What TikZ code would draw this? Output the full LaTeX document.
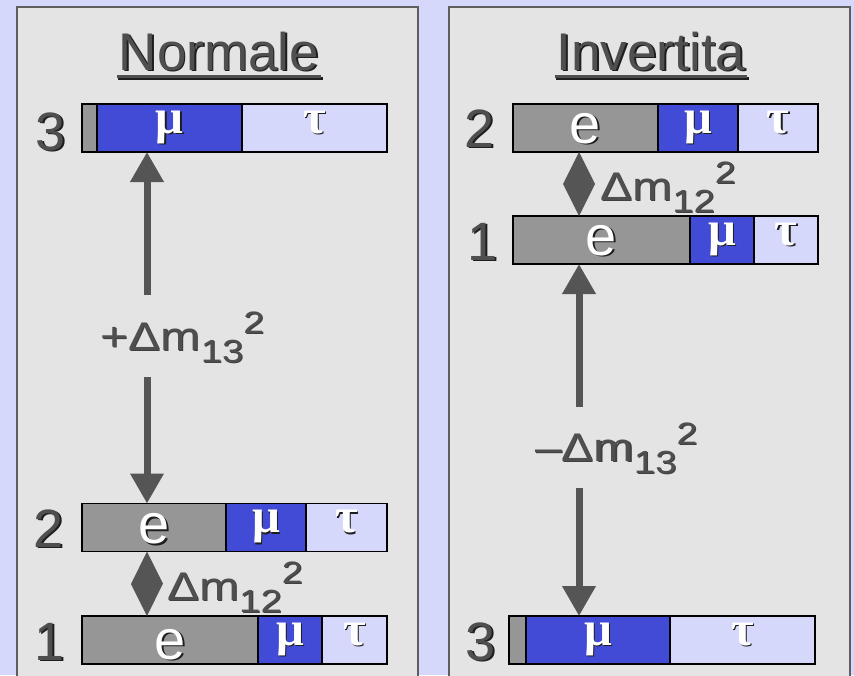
\documentclass[tikz,border=0pt]{standalone}
\usepackage{fontspec}
\setmainfont{Liberation Sans}
\newfontfamily\greekfont{Liberation Serif}
\usepackage{graphicx}
\usetikzlibrary{arrows.meta}

\definecolor{bgcol}{HTML}{D5D7FB}
\definecolor{panelcol}{HTML}{E4E4E4}
\definecolor{framecol}{HTML}{5E5E5E}
\definecolor{ecol}{HTML}{969696}
\definecolor{mucol}{HTML}{424BD6}
\definecolor{taucol}{HTML}{D5D7FB}
\definecolor{inkcol}{HTML}{4F4F4F}
\definecolor{arrowcol}{HTML}{555555}
\definecolor{shadecol}{HTML}{1E1E1E}

% text with a small drop shadow: colour, text
\newcommand\shadowed[2]{{\color{shadecol}\rlap{\kern1.6pt\raisebox{-1.6pt}{#2}}}{\color{#1}#2}}
\newcommand\lightshadow[2]{{\color{shadecol!85}\rlap{\kern1.1pt\raisebox{-1.1pt}{#2}}}{\color{#1}#2}}
\newcommand\fsz[1]{\fontsize{#1}{#1}\selectfont}
% mass-splitting label: sign, indices
\newcommand\dmsq[2]{\scalebox{1.2}[1]{\fsz{40}#1Δm\raisebox{-12pt}{\fsz{32}#2}\raisebox{17pt}{\fsz{31}2}}}

\tikzset{
  seg/.style={draw=black, line width=1.6pt, inner sep=0pt, outer sep=0pt,
              minimum height=48pt, anchor=west},
  level/.style={inner sep=0pt, font=\fsz{54}, anchor=base},
  elabel/.style={inner sep=0pt, font=\fsz{56}, anchor=base},
  glabel/.style={inner sep=0pt, font=\greekfont\bfseries\fsz{49}, anchor=base},
  title/.style={inner sep=0pt, font=\fsz{53}, anchor=base},
  panel/.style={fill=panelcol, draw=framecol, line width=2pt},
  bigarrow/.style={draw=arrowcol, line width=7pt,
                   -{Triangle[width=32pt,length=30pt]}},
  dlabel/.style={inner sep=0pt, anchor=base west},
}

\begin{document}
\begin{tikzpicture}[x=1pt, y=-1pt]
\useasboundingbox (0,0) rectangle (854,675);
\clip (0,0) rectangle (854,675);
\fill[bgcol] (0,0) rectangle (854,675);

% the two panels
\draw[panel] (17,7) rectangle (418,700);
\draw[panel] (449,7) rectangle (850,700);

% titles with underline
\node[title] (tN) at (219,70) {\shadowed{inkcol}{Normale}};
\node[title] (tI) at (651,70) {\shadowed{inkcol}{Invertita}};
\foreach \t in {tN,tI}{
  \draw[line width=3pt, shadecol, shorten <=-2pt, shorten >=-2pt]
    ([xshift=1.6pt,yshift=-8.1pt]\t.base west) -- ([xshift=1.6pt,yshift=-8.1pt]\t.base east);
  \draw[line width=3pt, inkcol, shorten <=-2pt, shorten >=-2pt]
    ([yshift=-6.5pt]\t.base west) -- ([yshift=-6.5pt]\t.base east);
}

% ---------- normal ordering ----------
\node[seg, fill=ecol,   minimum width=15pt]  (L3e) at (82,128) {};
\node[seg, fill=mucol,  minimum width=145pt] (L3m) at (L3e.east) {};
\node[seg, fill=taucol, minimum width=145pt] (L3t) at (L3m.east) {};

\node[seg, fill=ecol,   minimum width=144pt] (L2e) at (82,527.5) {};
\node[seg, fill=mucol,  minimum width=80pt]  (L2m) at (L2e.east) {};
\node[seg, fill=taucol, minimum width=81pt]  (L2t) at (L2m.east) {};

\node[seg, fill=ecol,   minimum width=176pt] (L1e) at (82,640) {};
\node[seg, fill=mucol,  minimum width=64pt]  (L1m) at (L1e.east) {};
\node[seg, fill=taucol, minimum width=65pt]  (L1t) at (L1m.east) {};

\node[level] (n3L) at (51,150)  {\shadowed{inkcol}{3}};
\node[level] (n2L) at (48.5,547) {\shadowed{inkcol}{2}};
\node[level] (n1L) at (50,660)  {\shadowed{inkcol}{1}};

\node[glabel] (g3Lm) at ([yshift=-29pt]L3m.north) {\shadowed{white}{μ}};
\node[glabel] (g3Lt) at ([yshift=-29pt]L3t.north) {\shadowed{white}{τ}};
\node[elabel] (g2Le) at ([yshift=8pt]L2e.south) {\shadowed{white}{e}};
\node[glabel] (g2Lm) at ([yshift=-29pt]L2m.north) {\shadowed{white}{μ}};
\node[glabel] (g2Lt) at ([yshift=-29pt]L2t.north) {\shadowed{white}{τ}};
\node[elabel] (g1Le) at ([yshift=5pt]L1e.south) {\shadowed{white}{e}};
\node[glabel] (g1Lm) at ([yshift=-29pt]L1m.north) {\shadowed{white}{μ}};
\node[glabel] (g1Lt) at ([yshift=-29pt]L1t.north) {\shadowed{white}{τ}};

\node[dlabel] (d13L) at (100.5,350) {\lightshadow{inkcol}{\dmsq{+}{13}}};
\node[dlabel] (d12L) at (167,600)   {\lightshadow{inkcol}{\dmsq{}{12}}};

\coordinate (LA) at (147,295);
\coordinate (LB) at (147,377);
\draw[bigarrow] (LA) -- (LA |- L3m.south);
\draw[bigarrow] (LB) -- (LB |- L2e.north);
\fill[arrowcol] (LA |- L2e.south) -- ++(16,32) -- (LA |- L1e.north) -- ++(-16,-32) -- cycle;

% ---------- inverted ordering ----------
\node[seg, fill=ecol,   minimum width=145pt] (R2e) at (513,128) {};
\node[seg, fill=mucol,  minimum width=80pt]  (R2m) at (R2e.east) {};
\node[seg, fill=taucol, minimum width=80pt]  (R2t) at (R2m.east) {};

\node[seg, fill=ecol,   minimum width=177pt] (R1e) at (513,240) {};
\node[seg, fill=mucol,  minimum width=64pt]  (R1m) at (R1e.east) {};
\node[seg, fill=taucol, minimum width=64pt]  (R1t) at (R1m.east) {};

\node[seg, fill=ecol,   minimum width=17pt]  (R3e) at (509,640) {};
\node[seg, fill=mucol,  minimum width=144pt] (R3m) at (R3e.east) {};
\node[seg, fill=taucol, minimum width=145pt] (R3t) at (R3m.east) {};

\node[level] (n2R) at (480,147)   {\shadowed{inkcol}{2}};
\node[level] (n1R) at (483,260)   {\shadowed{inkcol}{1}};
\node[level] (n3R) at (480.5,660) {\shadowed{inkcol}{3}};

\node[elabel] (g2Re) at ([yshift=9pt]R2e.south) {\shadowed{white}{e}};
\node[glabel] (g2Rm) at ([yshift=-29pt]R2m.north) {\shadowed{white}{μ}};
\node[glabel] (g2Rt) at ([yshift=-29pt]R2t.north) {\shadowed{white}{τ}};
\node[elabel] (g1Re) at ([yshift=9pt]R1e.south) {\shadowed{white}{e}};
\node[glabel] (g1Rm) at ([yshift=-29pt]R1m.north) {\shadowed{white}{μ}};
\node[glabel] (g1Rt) at ([yshift=-29pt]R1t.north) {\shadowed{white}{τ}};
\node[glabel] (g3Rm) at ([yshift=-29pt]R3m.north) {\shadowed{white}{μ}};
\node[glabel] (g3Rt) at ([yshift=-29pt]R3t.north) {\shadowed{white}{τ}};

\node[dlabel] (d12R) at (600,200) {\lightshadow{inkcol}{\dmsq{}{12}}};
\node[dlabel] (d13R) at (535,461) {\lightshadow{inkcol}{\dmsq{–}{13}}};

\coordinate (RA) at (579,407);
\coordinate (RB) at (579,488);
\draw[bigarrow] (RA) -- (RA |- R1e.south);
\draw[bigarrow] (RB) -- (RB |- R3m.north);
\fill[arrowcol] (RA |- R2e.south) -- ++(16,32) -- (RA |- R1e.north) -- ++(-16,-32) -- cycle;
\end{tikzpicture}
\end{document}
